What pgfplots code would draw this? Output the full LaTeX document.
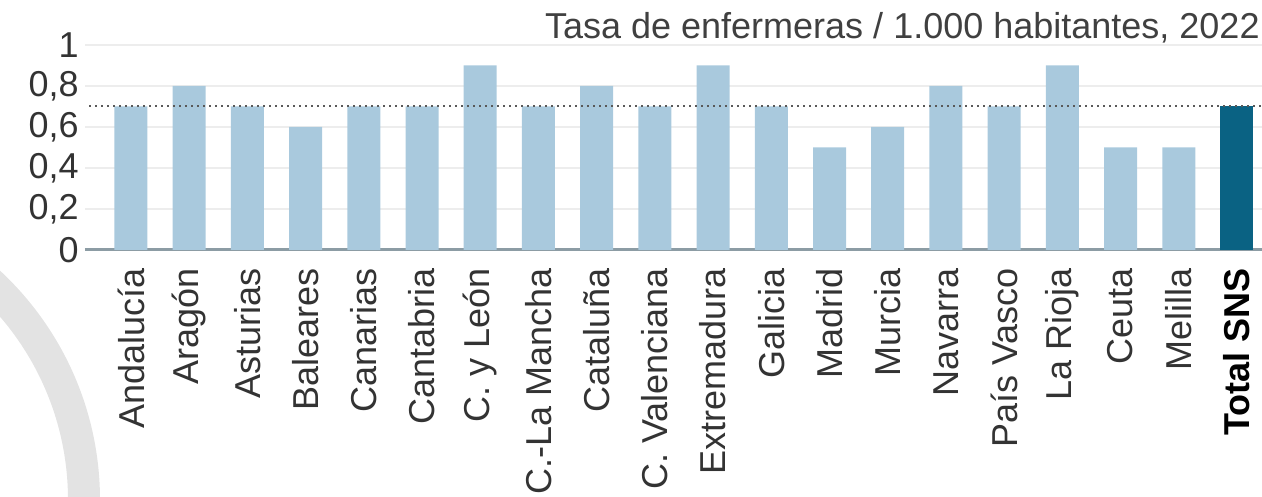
\documentclass[border=0pt]{standalone}
\usepackage{pgfplots}
\pgfplotsset{compat=1.18}
\usepackage{pgfplotstable}
\usepackage{fontspec}
\setmainfont{Liberation Sans}

\definecolor{barlight}{HTML}{A9C9DD}
\definecolor{bardark}{HTML}{0A6283}
\definecolor{txt}{HTML}{333333}
\definecolor{basecol}{HTML}{8C9CA4}
\definecolor{logo}{HTML}{E3E3E3}

% tasa de enfermeras por 1.000 habitantes, 2022
\pgfplotstableread{
x   val
0   0.7
1   0.8
2   0.7
3   0.6
4   0.7
5   0.7
6   0.9
7   0.7
8   0.8
9   0.7
10  0.9
11  0.7
12  0.5
13  0.6
14  0.8
15  0.7
16  0.9
17  0.5
18  0.5
}\regiones

\pgfplotstableread{
x   val
19  0.7
}\total

\newcommand{\lbl}{\fontsize{18}{20}\selectfont}

\begin{document}
\begin{tikzpicture}
  \useasboundingbox (0,0) rectangle (631pt,248.5pt);

  % arco gris del logo, al fondo
  \begin{scope}
    \clip (0,0) rectangle (631pt,248.5pt);
    \draw[logo, line width=16pt] (-106.5pt,-1.5pt) circle (148.5pt);
  \end{scope}

  \begin{axis}[
      at={(42.5pt,123.5pt)}, anchor=south west,
      scale only axis,
      width=588.5pt, height=102.5pt,
      xmin=-0.79, xmax=19.43,
      ymin=0, ymax=1,
      axis x line*=bottom,
      axis y line*=left,
      x axis line style={basecol, line width=1.5pt},
      y axis line style={draw=none},
      major tick length=0pt,
      xtick={0,...,19},
      xticklabels={Andalucía, Aragón, Asturias, Baleares, Canarias, Cantabria,
        C. y León, C.-La Mancha, Cataluña, C. Valenciana, Extremadura, Galicia,
        Madrid, Murcia, Navarra, País Vasco, La Rioja, Ceuta, Melilla,
        \textcolor{black}{\textbf{Total SNS}}},
      xticklabel shift=9pt,
      xticklabel style={rotate=90, anchor=east, font=\lbl, text=txt, inner sep=0pt},
      ytick={0,0.2,0.4,0.6,0.8,1},
      yticklabels={0,{0,2},{0,4},{0,6},{0,8},1},
      yticklabel shift=3pt,
      yticklabel style={font=\lbl, text=txt, inner sep=0pt},
      ymajorgrids=true,
      grid style={black!7, line width=1pt},
      ybar, bar width=16.5pt, bar shift=0pt,
      clip=false,
    ]
    \addplot[draw=none, fill=barlight] table[x=x, y=val] {\regiones};
    \addplot[draw=none, fill=bardark] table[x=x, y=val] {\total};
    \draw[black!65, dotted, line width=1pt] (axis cs:-0.72,0.7) -- (axis cs:19.43,0.7);
  \end{axis}

  \node[anchor=base east, inner sep=0pt, text=black!75, font=\lbl]
    at (630pt,229pt) {Tasa de enfermeras / 1.000 habitantes, 2022};
\end{tikzpicture}
\end{document}
